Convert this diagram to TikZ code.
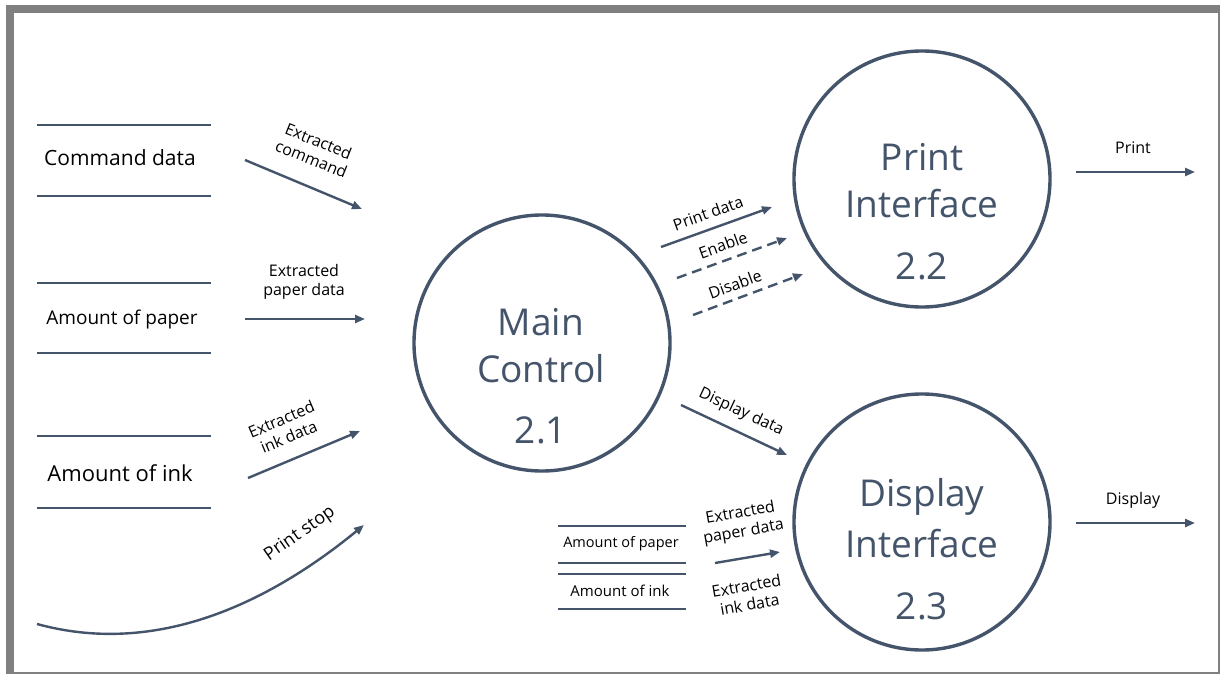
\documentclass[tikz,border=0pt]{standalone}
\usepackage{fontspec}
\setmainfont{Open Sans}
\usetikzlibrary{arrows.meta}
\definecolor{slate}{HTML}{44546A}
\definecolor{framegray}{HTML}{808080}
\tikzset{
  flow/.style={line width=2.4pt, draw=slate, -{Triangle[length=10pt,width=8pt]}},
  flowdash/.style={flow, dash pattern=on 10pt off 6pt},
  store/.style={line width=2.8pt, draw=slate},
  proc/.style={circle, draw=slate, line width=3.4pt, minimum size=256pt, inner sep=0pt},
  proctext/.style={text=slate, font=\fontsize{37}{44}\selectfont},
  storetext/.style={font=\fontsize{#1}{#1}\selectfont},
  flowtext/.style={font=\fontsize{16}{19}\selectfont, align=center},
}

\begin{document}
\begin{tikzpicture}[x=1pt,y=-1pt]
			%%%%% FRAME %%%%%
			\fill[framegray] (6,5) rectangle (1220,674);
			\fill[white] (14,13) rectangle (1218,672);
			\useasboundingbox (0,0) rectangle (1221,675);
			
			%%%%% PROCESSES %%%%%
			\node[proc] (main) at (542,343) {};
			\node[proctext] (mainA) at (541,322) {Main};
			\node[proctext] (mainB) at (541,369) {Control};
			\node[proctext] (mainC) at (541,430) {2.1};
			
			\node[proc] (print) at (922,179) {};
			\node[proctext] (printA) at (922,157) {Print};
			\node[proctext] (printB) at (922,204) {Interface};
			\node[proctext] (printC) at (922,266) {2.2};
			
			\node[proc] (display) at (922,522) {};
			\node[proctext] (displayA) at (922,497) {Display};
			\node[proctext] (displayB) at (922,544) {Interface};
			\node[proctext] (displayC) at (922,606) {2.3};
			
			%%%%% STORES %%%%%
			\draw[store] (37,125) -- (211,125);
			\draw[store] (37,196) -- (211,196);
			\node[storetext=21] (cmd) at (120,158) {Command data};
			
			\draw[store] (37,283) -- (211,283);
			\draw[store] (37,353) -- (211,353);
			\node[storetext=19] (paper) at (122,320) {Amount of paper};
			
			\draw[store] (37,436) -- (211,436);
			\draw[store] (37,508) -- (211,508);
			\node[storetext=22] (ink) at (120,473) {Amount of ink};
			
			\draw[store] (558,526) -- (686,526);
			\draw[store] (558,563) -- (686,563);
			\node[storetext=14.5] (paper2) at (621,544) {Amount of paper};
			\draw[store] (558,574) -- (686,574);
			\draw[store] (558,609) -- (686,609);
			\node[storetext=15] (ink2) at (620,591) {Amount of ink};
			
			%%%%% FLOWS %%%%%
			\coordinate (cmdout) at (245,160);
			\coordinate (cmdin) at (362,209);
			\draw[flow] (cmdout) -- (cmdin);
			\node[flowtext, rotate=-22] (cmdlbl) at (315,150) {Extracted\\command};
			
			\coordinate (paperout) at (245,319);
			\coordinate (paperin) at (365,319);
			\draw[flow] (paperout) -- (paperin);
			\node[flowtext] (paperlbl) at (304,282) {Extracted\\paper data};
			
			\coordinate (inkout) at (248,478);
			\coordinate (inkin) at (360,431);
			\draw[flow] (inkout) -- (inkin);
			\node[flowtext, rotate=23] (inklbl) at (285,428) {Extracted\\ink data};
			
			\coordinate (stopout) at (37,624);
			\coordinate (stopin) at (364,525);
			\draw[flow] (stopout) .. controls (150,655) and (260,610) .. (stopin);
			\node[flowtext, font=\fontsize{18}{20}\selectfont, rotate=35] (stoplbl) at (300,534) {Print stop};
			
			\coordinate (pdout) at (661,247);
			\coordinate (pdin) at (772,207);
			\draw[flow] (pdout) -- (pdin);
			\node[flowtext, rotate=20] (pdlbl) at (708,213) {Print data};
			
			\coordinate (enout) at (677,278);
			\coordinate (enin) at (787,238);
			\draw[flowdash] (enout) -- (enin);
			\node[flowtext, rotate=20] (enlbl) at (723,245) {Enable};
			
			\coordinate (disout) at (693,315);
			\coordinate (disin) at (803,274);
			\draw[flowdash] (disout) -- (disin);
			\node[flowtext, rotate=20] (dislbl) at (735,284) {Disable};
			
			\coordinate (ddout) at (681,405);
			\coordinate (ddin) at (787,455);
			\draw[flow] (ddout) -- (ddin);
			\node[flowtext, rotate=-25] (ddlbl) at (741,412) {Display data};
			
			\coordinate (exout) at (715,563);
			\coordinate (exin) at (780,552);
			\draw[flow] (exout) -- (exin);
			\node[flowtext, rotate=10] (expaper) at (742,523) {Extracted\\paper data};
			\node[flowtext, rotate=10] (exink) at (748,595) {Extracted\\ink data};
			
			\coordinate (prout) at (1076,172);
			\coordinate (prin) at (1195,172);
			\draw[flow] (prout) -- (prin);
			\node[flowtext] (prlbl) at (1133,148) {Print};
			
			\coordinate (dsout) at (1076,523);
			\coordinate (dsin) at (1195,523);
			\draw[flow] (dsout) -- (dsin);
			\node[flowtext] (dslbl) at (1133,500) {Display};
			%%%%% END %%%%%
\end{tikzpicture}
\end{document}
